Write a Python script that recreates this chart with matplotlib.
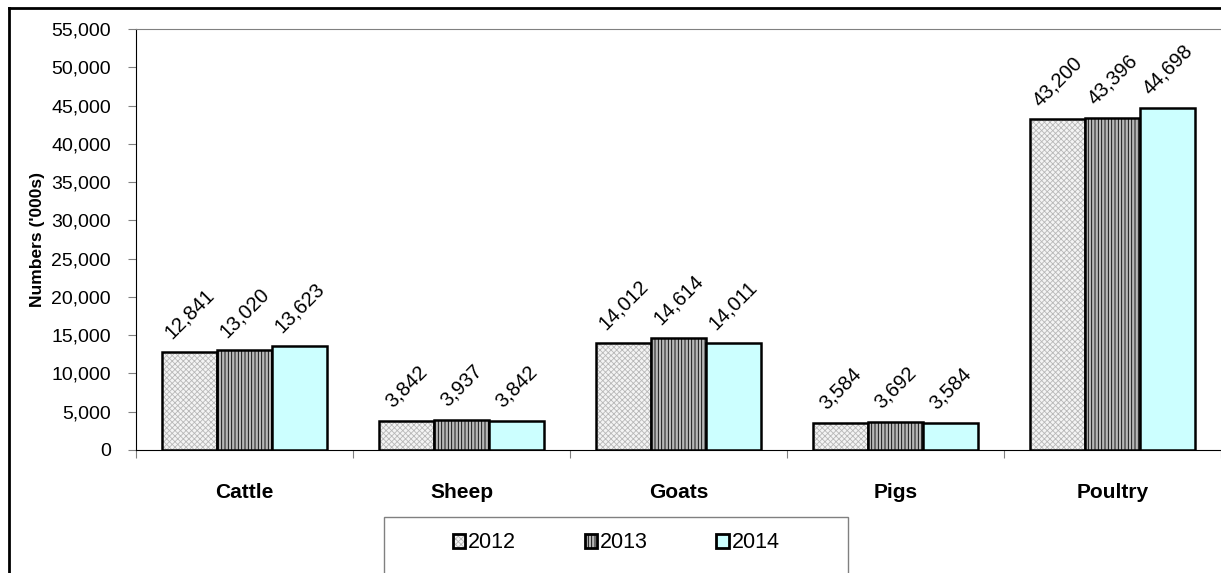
import numpy as np
import matplotlib
matplotlib.use("Agg")
import matplotlib.pyplot as plt
from matplotlib.patches import Rectangle
from matplotlib.lines import Line2D
from matplotlib.ticker import FuncFormatter

plt.rcParams['font.family'] = ['Liberation Sans', 'DejaVu Sans']
plt.rcParams['hatch.linewidth'] = 0.6

# data
categories = ['Cattle', 'Sheep', 'Goats', 'Pigs', 'Poultry']
years = ['2012', '2013', '2014']
vals_2012 = [12841, 3842, 14012, 3584, 43200]
vals_2013 = [13020, 3937, 14614, 3692, 43396]
vals_2014 = [13623, 3842, 14011, 3584, 44698]
y_ticks = list(range(0, 55001, 5000))

series = [vals_2012, vals_2013, vals_2014]
styles = [
    dict(facecolor='#f4f4f4', hatch='xxxxxx', hatch_col='#b8b8b8'),
    dict(facecolor='#b8b8b8', hatch='|||||', hatch_col='#000000'),
    dict(facecolor='#ccffff', hatch=None, hatch_col='#000000'),
]

W, H = 1221, 573
fig = plt.figure(figsize=(W / 100, H / 100), dpi=100)
ax = fig.add_axes([136 / W, 1 - 450 / H, 1 - 136 / W, (450 - 29) / H])

x = np.arange(len(categories)) + 0.5
bw = 0.253
handles = []
for i, (vals, st) in enumerate(zip(series, styles)):
    pos = x + (i - 1) * bw
    bars = ax.bar(pos, vals, width=bw, facecolor=st['facecolor'],
                  edgecolor='black', linewidth=1.8, zorder=3)
    h = Rectangle((0, 0), 1, 1, facecolor=st['facecolor'], edgecolor='black', linewidth=2)
    if st['hatch']:
        for b in list(bars) + [h]:
            b.set_hatch(st['hatch'])
            b._hatch_color = matplotlib.colors.to_rgba(st['hatch_col'])
    handles.append(h)
    for p, v in zip(pos, vals):
        ax.annotate(f'{v:,}', (p, v), xytext=(0, 7), textcoords='offset points',
                    rotation=45, ha='center', va='bottom', fontsize=14.5)

ax.set_xlim(0, len(categories))
ax.set_ylim(0, 55000)
ax.set_yticks(y_ticks)
ax.yaxis.set_major_formatter(FuncFormatter(lambda v, p: f'{int(v):,}'))
ax.tick_params(axis='y', length=6, color='#808080', labelsize=14, pad=12)

ax.set_xticks(np.arange(len(categories) + 1))
ax.set_xticklabels([])
ax.set_xticks(x, minor=True)
ax.set_xticklabels(categories, minor=True, fontweight='bold', fontsize=15)
ax.tick_params(axis='x', which='major', length=6, color='#808080')
ax.tick_params(axis='x', which='minor', length=0, pad=24)

ax.spines['left'].set_color('black')
ax.spines['bottom'].set_color('black')
ax.spines['top'].set_color('#808080')
ax.spines['right'].set_visible(False)

ax.set_ylabel("Numbers ('000s)", fontweight='bold', fontsize=12.5)
ax.yaxis.set_label_coords((45 - 136) / 1085, 0.5)

# outer frame
fig.add_artist(Line2D([9 / W, 9 / W], [0, 1 - 8 / H], color='black', lw=2))
fig.add_artist(Line2D([9 / W, 1], [1 - 8 / H, 1 - 8 / H], color='black', lw=2))

# legend box
fig.add_artist(Rectangle((384 / W, -0.05), (848 - 384) / W, 0.05 + (573 - 517) / H,
                         transform=fig.transFigure, facecolor='white',
                         edgecolor='#808080', lw=1))
leg = fig.legend(handles, years, loc='center', bbox_to_anchor=((384 + 848) / 2 / W, 1 - 543 / H),
                 ncol=3, frameon=False, fontsize=15.5, handlelength=0.6, handleheight=0.6,
                 handletextpad=0.1, columnspacing=3.2)

fig.savefig('out.png', dpi=100)
